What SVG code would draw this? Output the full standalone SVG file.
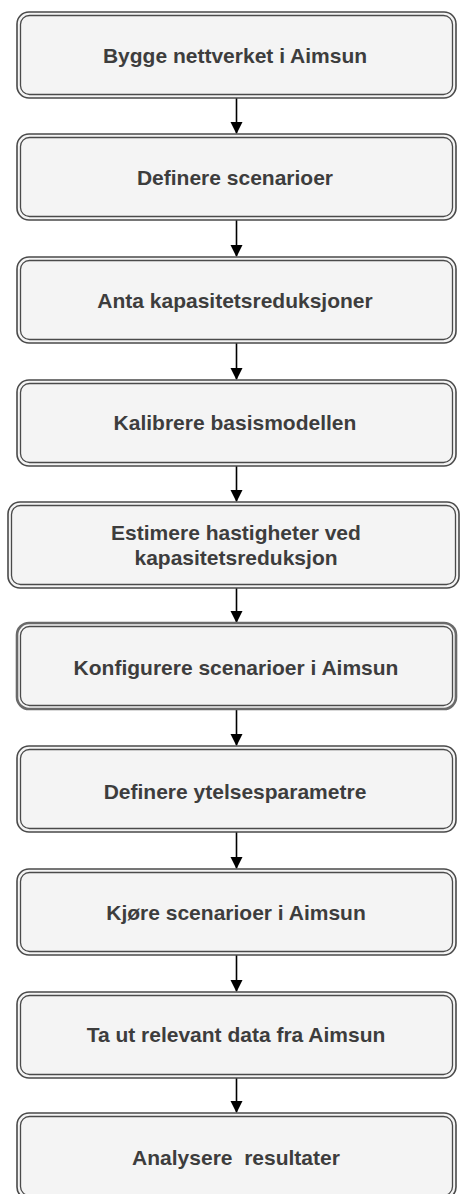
<svg xmlns="http://www.w3.org/2000/svg" width="460" height="1194" viewBox="0 0 460 1194">
<style>
.o{fill:#f4f4f4;stroke:#4a4a4a;stroke-width:1.6}
.i{fill:none;stroke:#4a4a4a;stroke-width:1.3}
.t{font-family:"Liberation Sans",Arial,sans-serif;font-weight:bold;font-size:21px;fill:#3d3d3d;text-anchor:middle}
.c{stroke:#000;stroke-width:1.6;fill:none}
</style>
<defs>
<marker id="ah" markerWidth="12" markerHeight="14" refX="11" refY="6" orient="auto" markerUnits="userSpaceOnUse" viewBox="0 0 12 12">
<path d="M0,0 L12,6 L0,12 z" fill="#000"/>
</marker>
</defs>
<rect width="460" height="1194" fill="#fff"/>
<g id="connectors">
<line class="c" x1="236.5" y1="98" x2="236.5" y2="133" marker-end="url(#ah)"/>
<line class="c" x1="236.5" y1="220" x2="236.5" y2="256" marker-end="url(#ah)"/>
<line class="c" x1="236.5" y1="343" x2="236.5" y2="379" marker-end="url(#ah)"/>
<line class="c" x1="236.5" y1="466" x2="236.5" y2="501" marker-end="url(#ah)"/>
<line class="c" x1="236.5" y1="588" x2="236.5" y2="622" marker-end="url(#ah)"/>
<line class="c" x1="236.5" y1="709" x2="236.5" y2="745" marker-end="url(#ah)"/>
<line class="c" x1="236.5" y1="832" x2="236.5" y2="868" marker-end="url(#ah)"/>
<line class="c" x1="236.5" y1="955" x2="236.5" y2="991" marker-end="url(#ah)"/>
<line class="c" x1="236.5" y1="1078" x2="236.5" y2="1112" marker-end="url(#ah)"/>
</g>
<g id="n1"><rect class="o" x="17" y="12" width="439" height="86" rx="12"/><rect class="i" x="20.5" y="15.5" width="432" height="79" rx="9"/><text class="t" x="235" y="63">Bygge nettverket i Aimsun</text></g>
<g id="n2"><rect class="o" x="17" y="134" width="439" height="86" rx="12"/><rect class="i" x="20.5" y="137.5" width="432" height="79" rx="9"/><text class="t" x="235" y="185">Definere scenarioer</text></g>
<g id="n3"><rect class="o" x="17" y="257" width="439" height="86" rx="12"/><rect class="i" x="20.5" y="260.5" width="432" height="79" rx="9"/><text class="t" x="235" y="308">Anta kapasitetsreduksjoner</text></g>
<g id="n4"><rect class="o" x="17" y="380" width="439" height="86" rx="12"/><rect class="i" x="20.5" y="383.5" width="432" height="79" rx="9"/><text class="t" x="235" y="430">Kalibrere basismodellen</text></g>
<g id="n5"><rect class="o" x="8" y="502" width="451" height="86" rx="12"/><rect class="i" x="11.5" y="505.5" width="444" height="79" rx="9"/><text class="t" x="236" y="540">Estimere hastigheter ved</text><text class="t" x="236" y="565">kapasitetsreduksjon</text></g>
<g id="n6"><rect class="o" x="17" y="623" width="439" height="86" rx="12" style="stroke:#6a6a6a;stroke-width:2.6"/><rect class="i" x="20.5" y="626.5" width="432" height="79" rx="9"/><text class="t" x="236" y="675">Konfigurere scenarioer i Aimsun</text></g>
<g id="n7"><rect class="o" x="17" y="746" width="439" height="86" rx="12"/><rect class="i" x="20.5" y="749.5" width="432" height="79" rx="9"/><text class="t" x="235" y="799">Definere ytelsesparametre</text></g>
<g id="n8"><rect class="o" x="17" y="869" width="439" height="86" rx="12"/><rect class="i" x="20.5" y="872.5" width="432" height="79" rx="9"/><text class="t" x="236" y="920">Kjøre scenarioer i Aimsun</text></g>
<g id="n9"><rect class="o" x="17" y="992" width="439" height="86" rx="12"/><rect class="i" x="20.5" y="995.5" width="432" height="79" rx="9"/><text class="t" x="236" y="1042">Ta ut relevant data fra Aimsun</text></g>
<g id="n10"><rect class="o" x="17" y="1113" width="439" height="86" rx="12"/><rect class="i" x="20.5" y="1116.5" width="432" height="79" rx="9"/><text class="t" x="236" y="1165" xml:space="preserve" style="white-space:pre">Analysere  resultater</text></g>
</svg>
